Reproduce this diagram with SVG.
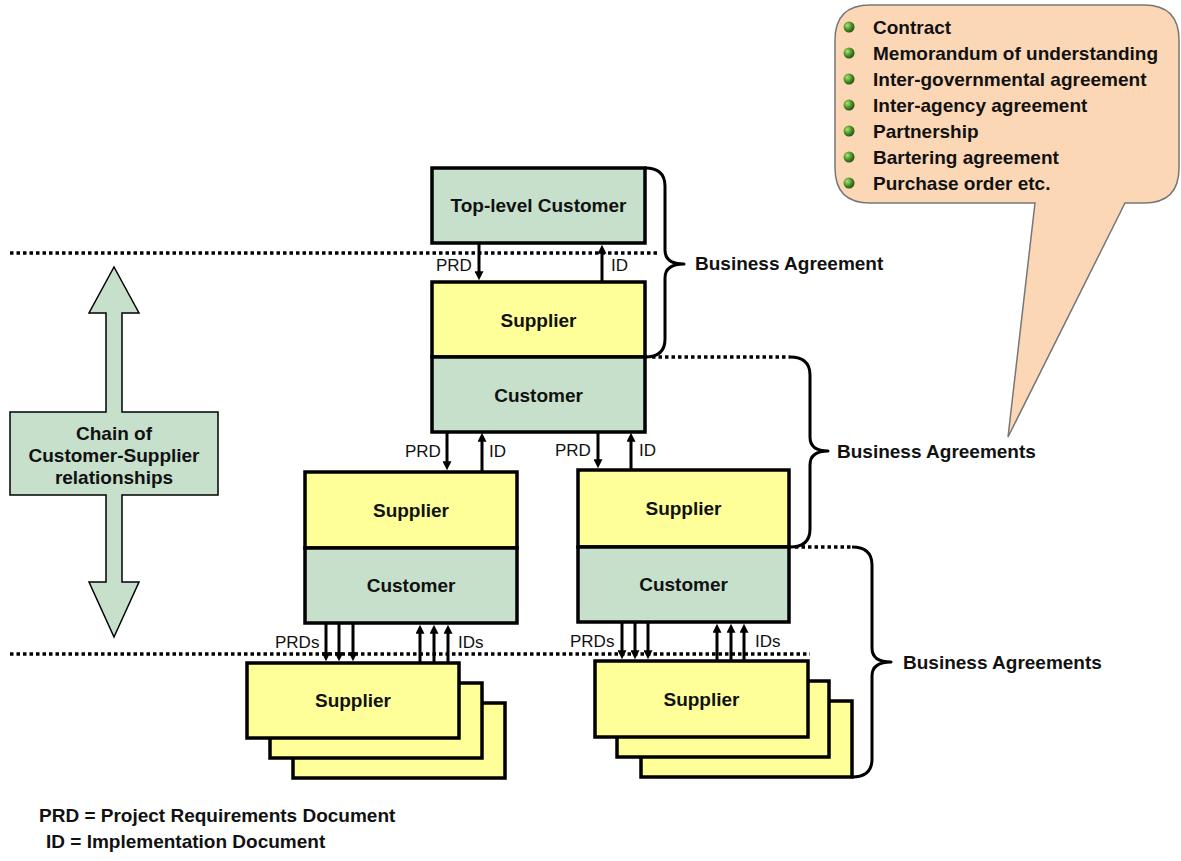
<svg xmlns="http://www.w3.org/2000/svg" width="1181" height="861" viewBox="0 0 1181 861">
  <style>
    .box { stroke: #000; stroke-width: 3.5; }
    .green { fill: #c6e0cc; }
    .yellow { fill: #ffff99; }
    .lbl { font-family: "Liberation Sans", Arial, sans-serif; font-weight: bold; font-size: 19px; fill: #111; }
    .mid { text-anchor: middle; }
    .small { font-family: "Liberation Sans", Arial, sans-serif; font-size: 17px; fill: #111; }
    .dots { stroke: #000; stroke-width: 3.5; stroke-dasharray: 3.5 3; fill: none; }
    .brace { stroke: #000; stroke-width: 3; fill: none; stroke-linejoin: round; }
    .arr { stroke: #000; stroke-width: 3; marker-end: url(#head); }
  </style>
  <defs>
    <marker id="head" viewBox="0 0 10 10" markerUnits="userSpaceOnUse" markerWidth="9" markerHeight="9" refX="3" refY="5" orient="auto">
      <path d="M0,0 L10,5 L0,10 z" fill="#000"/>
    </marker>
    <radialGradient id="ball" cx="0.35" cy="0.35" r="0.7">
      <stop offset="0" stop-color="#b6e07a"/>
      <stop offset="0.5" stop-color="#4f9a2c"/>
      <stop offset="1" stop-color="#1f4d12"/>
    </radialGradient>
  </defs>

  <rect width="1181" height="861" fill="#fff"/>

  <!-- level separators -->
  <g id="separators">
    <line class="dots" x1="10" y1="253" x2="657" y2="253"/>
    <line class="dots" x1="10" y1="654" x2="810" y2="654"/>
  </g>

  <!-- chain arrow -->
  <g id="chain">
    <path d="M114,267 L139,313 L122,313 L122,412 L218,412 L218,495 L122,495 L122,582 L139,582 L114,637 L89,582 L106,582 L106,495 L10,495 L10,412 L106,412 L106,313 L89,313 Z" fill="#c6e0cc" stroke="#000" stroke-width="1.5"/>
    <text class="lbl mid" x="114" y="440">Chain of</text>
    <text class="lbl mid" x="114" y="462">Customer-Supplier</text>
    <text class="lbl mid" x="114" y="484">relationships</text>
  </g>

  <!-- agreement callout -->
  <g id="callout">
    <path d="M870,5 L1144,5 Q1179,5 1179,40 L1179,168 Q1179,203 1144,203 L1125,203 L1008,437 L1035,203 L870,203 Q835,203 835,168 L835,40 Q835,5 870,5 Z" fill="#fcd7b6" stroke="#777" stroke-width="1.5"/>
    <g fill="url(#ball)">
      <circle cx="849" cy="27" r="5.5"/>
      <circle cx="849" cy="53" r="5.5"/>
      <circle cx="849" cy="79" r="5.5"/>
      <circle cx="849" cy="105" r="5.5"/>
      <circle cx="849" cy="131" r="5.5"/>
      <circle cx="849" cy="157" r="5.5"/>
      <circle cx="849" cy="183" r="5.5"/>
    </g>
    <text class="lbl" x="873" y="34">Contract</text>
    <text class="lbl" x="873" y="60">Memorandum of understanding</text>
    <text class="lbl" x="873" y="86">Inter-governmental agreement</text>
    <text class="lbl" x="873" y="112">Inter-agency agreement</text>
    <text class="lbl" x="873" y="138">Partnership</text>
    <text class="lbl" x="873" y="164">Bartering agreement</text>
    <text class="lbl" x="873" y="190">Purchase order etc.</text>
  </g>

  <!-- top-level customer -->
  <g id="top-customer">
    <rect class="box green" x="432" y="168" width="213" height="75"/>
    <text class="lbl mid" x="538.5" y="212">Top-level Customer</text>
  </g>

  <!-- first supplier / customer -->
  <g id="tier1">
    <rect class="box yellow" x="432" y="282" width="213" height="75"/>
    <rect class="box green" x="432" y="357" width="213" height="75"/>
    <text class="lbl mid" x="538.5" y="327">Supplier</text>
    <text class="lbl mid" x="538.5" y="402">Customer</text>
  </g>

  <!-- second tier, left -->
  <g id="tier2-left">
    <rect class="box yellow" x="305" y="472" width="212" height="76"/>
    <rect class="box green" x="305" y="548" width="212" height="75"/>
    <text class="lbl mid" x="411" y="517">Supplier</text>
    <text class="lbl mid" x="411" y="592">Customer</text>
  </g>

  <!-- second tier, right -->
  <g id="tier2-right">
    <rect class="box yellow" x="578" y="470" width="211" height="77"/>
    <rect class="box green" x="578" y="547" width="211" height="75"/>
    <text class="lbl mid" x="683.5" y="515">Supplier</text>
    <text class="lbl mid" x="683.5" y="591">Customer</text>
  </g>

  <!-- third tier suppliers, left stack -->
  <g id="tier3-left">
    <rect class="box yellow" x="293" y="703" width="212" height="75"/>
    <rect class="box yellow" x="270" y="683" width="212" height="75"/>
    <rect class="box yellow" x="247" y="663" width="212" height="75"/>
    <text class="lbl mid" x="353" y="707">Supplier</text>
  </g>

  <!-- third tier suppliers, right stack -->
  <g id="tier3-right">
    <rect class="box yellow" x="641" y="701" width="211" height="76"/>
    <rect class="box yellow" x="617" y="681" width="212" height="76"/>
    <rect class="box yellow" x="595" y="661" width="213" height="76"/>
    <text class="lbl mid" x="701.5" y="706">Supplier</text>
  </g>

  <!-- document flows and agreement braces -->
  <g id="connectors">
    <line class="arr" x1="479" y1="243" x2="479" y2="274"/>
    <line class="arr" x1="602" y1="282" x2="602" y2="251"/>

    <line class="arr" x1="447" y1="432" x2="447" y2="464"/>
    <line class="arr" x1="482" y1="472" x2="482" y2="439"/>
    <line class="arr" x1="598" y1="432" x2="598" y2="462"/>
    <line class="arr" x1="631" y1="470" x2="631" y2="439"/>

    <line class="arr" x1="326" y1="623" x2="326" y2="655"/>
    <line class="arr" x1="339" y1="623" x2="339" y2="655"/>
    <line class="arr" x1="353" y1="623" x2="353" y2="655"/>
    <line class="arr" x1="420" y1="663" x2="420" y2="631"/>
    <line class="arr" x1="434" y1="663" x2="434" y2="631"/>
    <line class="arr" x1="448" y1="663" x2="448" y2="631"/>

    <line class="arr" x1="622" y1="622" x2="622" y2="653"/>
    <line class="arr" x1="635" y1="622" x2="635" y2="653"/>
    <line class="arr" x1="648" y1="622" x2="648" y2="653"/>
    <line class="arr" x1="717" y1="661" x2="717" y2="630"/>
    <line class="arr" x1="731" y1="661" x2="731" y2="630"/>
    <line class="arr" x1="744" y1="661" x2="744" y2="630"/>

    <line class="dots" x1="652" y1="357" x2="790" y2="357"/>
    <line class="dots" x1="795" y1="547" x2="852" y2="547"/>

    <path class="brace" d="M645,168 Q665,168 665,186 L665,250 Q665,264 684,264 Q665,264 665,278 L665,339 Q665,357 645,357"/>
    <path class="brace" d="M790,357 Q810,357 810,375 L810,437 Q810,451 828,451 Q810,451 810,465 L810,529 Q810,547 790,547"/>
    <path class="brace" d="M852,547 Q872,547 872,565 L872,648 Q872,662 891,662 Q872,662 872,676 L872,759 Q872,777 852,777"/>
  </g>

  <!-- flow and agreement labels -->
  <g id="labels">
    <text class="small" x="436" y="271">PRD</text>
    <text class="small" x="611" y="271">ID</text>
    <text class="small" x="405" y="457">PRD</text>
    <text class="small" x="489" y="457">ID</text>
    <text class="small" x="555" y="456">PRD</text>
    <text class="small" x="639" y="456">ID</text>
    <text class="small" x="275" y="648">PRDs</text>
    <text class="small" x="458" y="648">IDs</text>
    <text class="small" x="570" y="647">PRDs</text>
    <text class="small" x="755" y="647">IDs</text>

    <text class="lbl" x="695" y="270">Business Agreement</text>
    <text class="lbl" x="837" y="458">Business Agreements</text>
    <text class="lbl" x="903" y="669">Business Agreements</text>
  </g>

  <!-- legend -->
  <g id="legend">
    <text class="lbl" x="39" y="822">PRD = Project Requirements Document</text>
    <text class="lbl" x="46" y="848">ID = Implementation Document</text>
  </g>
</svg>
